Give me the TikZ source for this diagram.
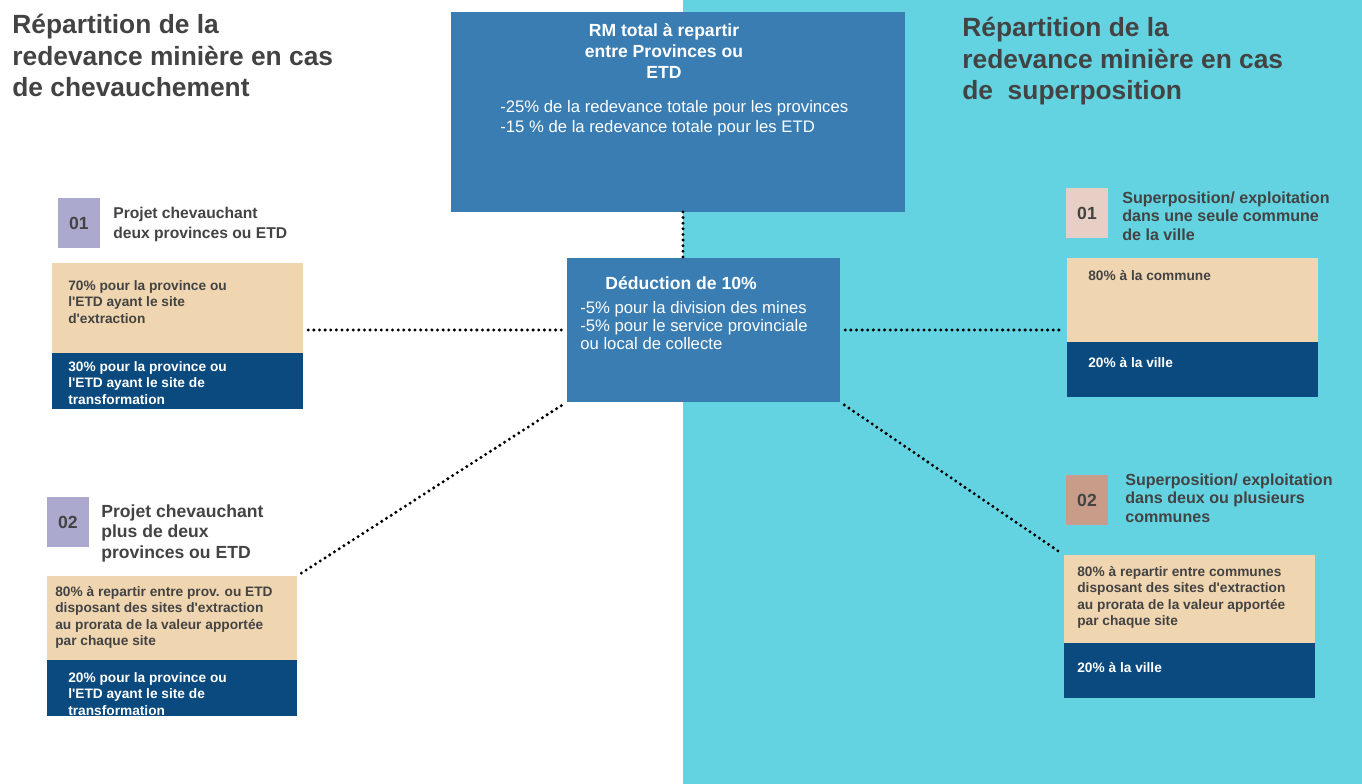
\documentclass[tikz,border=0pt]{standalone}
\usepackage{fontspec}
\setmainfont{Liberation Sans}
\definecolor{bgcyan}{HTML}{63D3E2}
\definecolor{boxblue}{HTML}{3A7DB3}
\definecolor{navy}{HTML}{0B4A7E}
\definecolor{sand}{HTML}{EFD5B0}
\definecolor{lilac}{HTML}{ABA9CD}
\definecolor{rose}{HTML}{E8CFC5}
\definecolor{clay}{HTML}{C99C89}
\definecolor{ink}{HTML}{434343}
\begin{document}
\begin{tikzpicture}[x=0.02cm, y=-0.02cm,
  panel/.style={anchor=north west, inner sep=0, outer sep=0},
  numbox/.style={panel, minimum width=0.84cm, minimum height=1cm, text=ink, font=\bfseries\fontsize{10}{12}\selectfont},
  txt/.style={anchor=north west, inner sep=0, align=left},
  boxtxt/.style={txt, font=\bfseries\fontsize{7.8}{9.35}\selectfont},
  dotline/.style={line width=1.9pt, dash pattern=on 0pt off 3.2pt, line cap=round, shorten <=3pt, shorten >=3pt}]
\fill[white] (0,0) rectangle (683,784);
\fill[bgcyan] (683,0) rectangle (1362,784);
\coordinate (split) at (683,0);
\node[txt, text=ink, font=\bfseries\fontsize{15}{17.9}\selectfont] (ltitle) at (12,14) {Répartition de la\\redevance minière en cas\\de chevauchement};
\node[txt, text=ink, font=\bfseries\fontsize{15}{17.9}\selectfont] (rtitle) at (962,17) {Répartition de la\\redevance minière en cas\\de\ \ superposition};
\node[panel, fill=boxblue, minimum width=9.08cm, minimum height=4cm] (total) at (451,12) {};
\node[anchor=north, inner sep=0, align=center, text=white, font=\bfseries\fontsize{10}{11.9}\selectfont] (totalhd) at (664,23) {RM total à repartir\\entre Provinces ou\\ETD};
\node[txt, text=white, font=\fontsize{9.5}{11.3}\selectfont] (totaltx) at (500,100) {-25\% de la redevance totale pour les provinces\\-15 \% de la redevance totale pour les ETD};
\node[panel, fill=boxblue, minimum width=5.46cm, minimum height=2.88cm] (deduc) at (567,258) {};
\node[txt, text=white, font=\bfseries\fontsize{10}{12}\selectfont] (deduchd) at (605,276) {Déduction de 10\%};
\node[txt, text=white, font=\fontsize{9.5}{10.2}\selectfont] (deductx) at (580,301) {-5\% pour la division des mines\\-5\% pour le service provinciale\\ou local de collecte};
\node[numbox, fill=lilac] (lnum1) at (58,198) {01};
\node[txt, text=ink, font=\bfseries\fontsize{8.9}{11.3}\selectfont] (llab1) at (113,207) {Projet chevauchant\\deux provinces ou ETD};
\node[panel, fill=sand, minimum width=5.02cm, minimum height=1.8cm] (ltop1) at (52,263) {};
\node[panel, fill=navy, minimum width=5.02cm, minimum height=1.12cm] (lbot1) at (52,353) {};
\node[boxtxt, text=ink] (ltoptx1) at (68,280) {70\% pour la province ou\\l\textquotesingle ETD ayant le site\\d\textquotesingle extraction};
\node[boxtxt, text=white] (lbottx1) at (68,361) {30\% pour la province ou\\l\textquotesingle ETD ayant le site de\\transformation};
\node[numbox, fill=lilac] (lnum2) at (47,497) {02};
\node[txt, text=ink, font=\bfseries\fontsize{10}{11.9}\selectfont] (llab2) at (101,504) {Projet chevauchant\\plus de deux\\provinces ou ETD};
\node[panel, fill=sand, minimum width=5cm, minimum height=1.68cm] (ltop2) at (47,576) {};
\node[panel, fill=navy, minimum width=5cm, minimum height=1.12cm] (lbot2) at (47,660) {};
\node[boxtxt, text=ink] (ltoptx2) at (55,586) {80\% à repartir entre prov. ou ETD\\disposant des sites d\textquotesingle extraction\\au prorata de la valeur apportée\\par chaque site};
\node[boxtxt, text=white] (lbottx2) at (68,672) {20\% pour la province ou\\l\textquotesingle ETD ayant le site de\\transformation};
\node[numbox, fill=rose] (rnum1) at (1066,188) {01};
\node[txt, text=ink, font=\bfseries\fontsize{9.15}{10.5}\selectfont] (rlab1) at (1122,191.5) {Superposition/ exploitation\\dans une seule commune\\de la ville};
\node[panel, fill=sand, minimum width=5.02cm, minimum height=1.68cm] (rtop1) at (1067,258) {};
\node[panel, fill=navy, minimum width=5.02cm, minimum height=1.1cm] (rbot1) at (1067,342) {};
\node[boxtxt, text=ink] (rtoptx1) at (1088,270) {80\% à la commune};
\node[boxtxt, text=white] (rbottx1) at (1088,357) {20\% à la ville};
\node[numbox, fill=clay] (rnum2) at (1066,475) {02};
\node[txt, text=ink, font=\bfseries\fontsize{9.15}{10.5}\selectfont] (rlab2) at (1125,473.5) {Superposition/ exploitation\\dans deux ou plusieurs\\communes};
\node[panel, fill=sand, minimum width=5.02cm, minimum height=1.76cm] (rtop2) at (1064,555) {};
\node[panel, fill=navy, minimum width=5.02cm, minimum height=1.1cm] (rbot2) at (1064,643) {};
\node[boxtxt, text=ink] (rtoptx2) at (1077,566) {80\% à repartir entre communes\\disposant des sites d\textquotesingle extraction\\au prorata de la valeur apportée\\par chaque site};
\node[boxtxt, text=white] (rbottx2) at (1077,662) {20\% à la ville};
\draw[dotline, shorten <=0pt, shorten >=0pt] (total.south -| split) -- (deduc.north -| split);
\draw[dotline] (ltop1.east |- deduc.west) -- (deduc.west);
\draw[dotline] (deduc.east) -- (deduc.east -| rtop1.west);
\draw[dotline] (ltop2.north east) -- (deduc.south west);
\draw[dotline] (deduc.south east) -- (rtop2.north west);
\end{tikzpicture}
\end{document}
